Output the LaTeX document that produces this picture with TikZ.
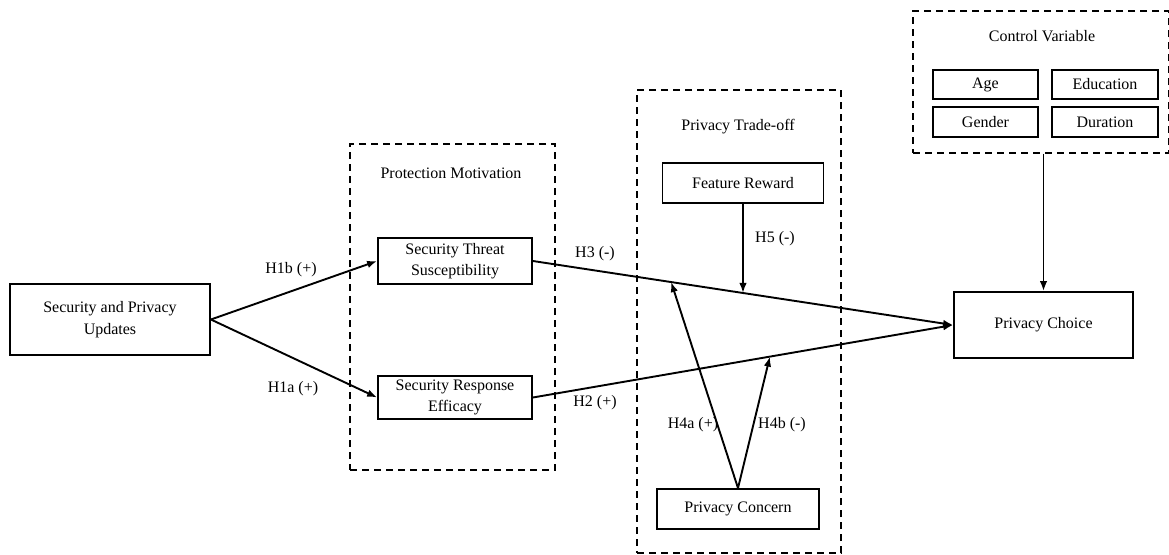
\documentclass[tikz,border=0pt]{standalone}
\usepackage{fontspec}
\setmainfont{Liberation Serif}
\usetikzlibrary{arrows.meta,calc}
\begin{document}
\begin{tikzpicture}[x=1pt,y=-1pt,
  font=\fontsize{16}{21.5}\selectfont,
  box/.style={draw,line width=1.8pt,inner sep=0pt,align=center},
  grp/.style={draw,line width=1.8pt,dash pattern=on 7pt off 5pt,inner sep=0pt},
  arr/.style={line width=1.9pt,-{Latex[length=10pt,width=7.5pt]}},
  lbl/.style={inner sep=0pt}]
\useasboundingbox (0,0) rectangle (1169,554);
% group frames
\node[grp,minimum width=205pt,minimum height=326pt] (PM) at (452.5,307) {};
\node[grp,minimum width=204pt,minimum height=463pt] (PT) at (739,321.5) {};
\node[grp,minimum width=256pt,minimum height=142pt] (CV) at (1041,82) {};
\node[lbl] (PMt) at (451,173) {Protection Motivation};
\node[lbl] (PTt) at (738,127) {Privacy Trade-off};
\node[lbl] (CVt) at (1042,36) {Control Variable};
% boxes
\node[box,minimum width=200pt,minimum height=71pt] (U) at (110,319.5) {Security and Privacy\\Updates};
\node[box,minimum width=154pt,minimum height=46pt] (T) at (455,261) {Security Threat\\Susceptibility};
\node[box,minimum width=154pt,minimum height=43pt] (R) at (455,397.5) {Security Response\\Efficacy};
\node[box,minimum width=161pt,minimum height=40pt] (FR) at (743,183) {Feature Reward};
\node[box,minimum width=162pt,minimum height=40pt] (PC) at (738,509) {Privacy Concern};
\node[box,minimum width=179pt,minimum height=66pt] (C) at (1043.5,325) {Privacy Choice};
\node[box,minimum width=105pt,minimum height=29pt] (Age) at (985.5,84.5) {Age};
\node[box,minimum width=106pt,minimum height=29pt] (Edu) at (1105,84.5) {Education};
\node[box,minimum width=105pt,minimum height=30pt] (Gen) at (985.5,122) {Gender};
\node[box,minimum width=106pt,minimum height=30pt] (Dur) at (1105,122) {Duration};
% connectors
\draw[arr] (U.east) -- (T.west);
\draw[arr] (U.east) -- (R.west);
\draw[arr] (T.east) -- (C.west);
\draw[arr] (R.east) -- (C.west);
\coordinate (frb) at ($(FR.south)+(0,100)$);
\coordinate (h5) at (intersection of FR.south--frb and T.east--C.west);
\draw[arr] (FR.south) -- (h5);
\coordinate (h4a) at ($(T.east)!0.329!(C.west)$);
\coordinate (h4b) at ($(R.east)!0.564!(C.west)$);
\draw[arr] (PC.north) -- (h4a);
\draw[arr] (PC.north) -- (h4b);
\draw[arr] (C.north |- CV.south) -- (C.north);
% labels
\node[lbl] at (291,270) {H1b (+)};
\node[lbl] at (293,389) {H1a (+)};
\node[lbl] at (595,254) {H3 (-)};
\node[lbl] at (595,403) {H2 (+)};
\node[lbl] at (775,239) {H5 (-)};
\node[lbl] at (693,425) {H4a (+)};
\node[lbl] at (782,425) {H4b (-)};
\end{tikzpicture}
\end{document}
